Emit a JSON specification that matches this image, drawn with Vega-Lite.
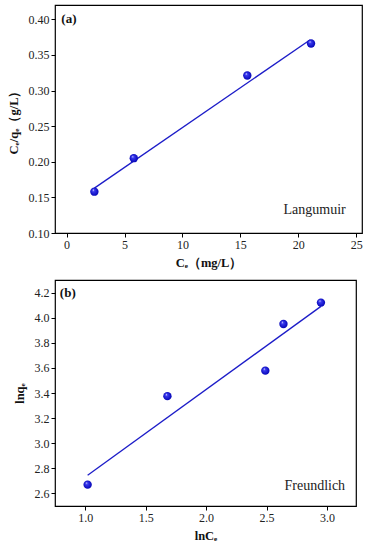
{
  "$schema": "https://vega.github.io/schema/vega-lite/v6.json",
  "padding": {"left": 6, "top": 4, "right": 5, "bottom": 5},
  "background": "white",
  "spacing": 9,
  "config": {
    "font": "Liberation Serif",
    "view": {"stroke": "black", "strokeWidth": 1.2},
    "text": {"font": "Liberation Serif"},
    "axis": {
      "grid": false, "domain": false, "tickColor": "black", "tickSize": 4, "labelOverlap": false,
      "labelFont": "Liberation Serif", "labelFontSize": 12, "labelColor": "#222",
      "titleFont": "Liberation Serif", "titleFontSize": 12.5, "titleFontWeight": "bold", "titleColor": "#111"
    }
  },
  "datasets": {
    "lang": [
      {"ce": 2.4, "v": 0.158},
      {"ce": 5.8, "v": 0.205},
      {"ce": 15.6, "v": 0.321},
      {"ce": 21.1, "v": 0.366}
    ],
    "langfit": [
      {"ce": 2.4, "v": 0.163},
      {"ce": 21.0, "v": 0.371}
    ],
    "freu": [
      {"lnce": 1.02, "lnq": 2.67},
      {"lnce": 1.68, "lnq": 3.375},
      {"lnce": 2.49, "lnq": 3.578},
      {"lnce": 2.64, "lnq": 3.95},
      {"lnce": 2.95, "lnq": 4.12}
    ],
    "freufit": [
      {"lnce": 1.02, "lnq": 2.745},
      {"lnce": 2.95, "lnq": 4.09}
    ]
  },
  "vconcat": [
    {
      "width": 307, "height": 228,
      "layer": [
        {
          "data": {"name": "langfit"},
          "mark": {"type": "line", "color": "#1c1cc8", "strokeWidth": 1.3},
          "encoding": {
            "x": {"field": "ce", "type": "quantitative", "scale": {"domain": [-1, 25.5], "nice": false, "zero": false},
                  "axis": {"values": [0, 5, 10, 15, 20, 25], "tickCount": 6, "title": "Cₑ（mg/L）", "titlePadding": 6}},
            "y": {"field": "v", "type": "quantitative", "scale": {"domain": [0.1, 0.42], "nice": false, "zero": false},
                  "axis": {"values": [0.10, 0.15, 0.20, 0.25, 0.30, 0.35, 0.40], "tickCount": 7, "format": ".2f", "title": "Cₑ/qₑ（g/L）", "titlePadding": 8}}
          }
        },
        {
          "data": {"name": "lang"},
          "mark": {"type": "point", "shape": "circle", "filled": true, "size": 70, "opacity": 1,
                   "color": {"gradient": "radial", "x1": 0.35, "y1": 0.3, "r1": 0, "x2": 0.5, "y2": 0.5, "r2": 0.55,
                             "stops": [{"offset": 0, "color": "#ffffff"}, {"offset": 0.25, "color": "#3a3af0"}, {"offset": 1, "color": "#0000b0"}]}},
          "encoding": {
            "x": {"field": "ce", "type": "quantitative"},
            "y": {"field": "v", "type": "quantitative"}
          }
        },
        {
          "data": {"values": [{"ce": -0.45, "v": 0.40, "t": "(a)"}]},
          "mark": {"type": "text", "align": "left", "baseline": "middle", "fontWeight": "bold", "fontSize": 13, "color": "#111"},
          "encoding": {"x": {"field": "ce", "type": "quantitative"}, "y": {"field": "v", "type": "quantitative"}, "text": {"field": "t"}}
        },
        {
          "data": {"values": [{"ce": 24.1, "v": 0.132, "t": "Langumuir"}]},
          "mark": {"type": "text", "align": "right", "baseline": "middle", "fontSize": 14, "color": "#222"},
          "encoding": {"x": {"field": "ce", "type": "quantitative"}, "y": {"field": "v", "type": "quantitative"}, "text": {"field": "t"}}
        }
      ]
    },
    {
      "width": 301, "height": 226,
      "layer": [
        {
          "data": {"name": "freufit"},
          "mark": {"type": "line", "color": "#1c1cc8", "strokeWidth": 1.3},
          "encoding": {
            "x": {"field": "lnce", "type": "quantitative", "scale": {"domain": [0.75, 3.24], "nice": false, "zero": false},
                  "axis": {"values": [1.0, 1.5, 2.0, 2.5, 3.0], "tickCount": 5, "format": ".1f", "title": "lnCₑ", "titlePadding": 6}},
            "y": {"field": "lnq", "type": "quantitative", "scale": {"domain": [2.5, 4.3], "nice": false, "zero": false},
                  "axis": {"values": [2.6, 2.8, 3.0, 3.2, 3.4, 3.6, 3.8, 4.0, 4.2], "tickCount": 9, "format": ".1f", "title": "lnqₑ", "titlePadding": 8}}
          }
        },
        {
          "data": {"name": "freu"},
          "mark": {"type": "point", "shape": "circle", "filled": true, "size": 70, "opacity": 1,
                   "color": {"gradient": "radial", "x1": 0.35, "y1": 0.3, "r1": 0, "x2": 0.5, "y2": 0.5, "r2": 0.55,
                             "stops": [{"offset": 0, "color": "#ffffff"}, {"offset": 0.25, "color": "#3a3af0"}, {"offset": 1, "color": "#0000b0"}]}},
          "encoding": {
            "x": {"field": "lnce", "type": "quantitative"},
            "y": {"field": "lnq", "type": "quantitative"}
          }
        },
        {
          "data": {"values": [{"lnce": 0.79, "lnq": 4.2, "t": "(b)"}]},
          "mark": {"type": "text", "align": "left", "baseline": "middle", "fontWeight": "bold", "fontSize": 13, "color": "#111"},
          "encoding": {"x": {"field": "lnce", "type": "quantitative"}, "y": {"field": "lnq", "type": "quantitative"}, "text": {"field": "t"}}
        },
        {
          "data": {"values": [{"lnce": 3.15, "lnq": 2.66, "t": "Freundlich"}]},
          "mark": {"type": "text", "align": "right", "baseline": "middle", "fontSize": 14, "color": "#222"},
          "encoding": {"x": {"field": "lnce", "type": "quantitative"}, "y": {"field": "lnq", "type": "quantitative"}, "text": {"field": "t"}}
        }
      ]
    }
  ]
}
